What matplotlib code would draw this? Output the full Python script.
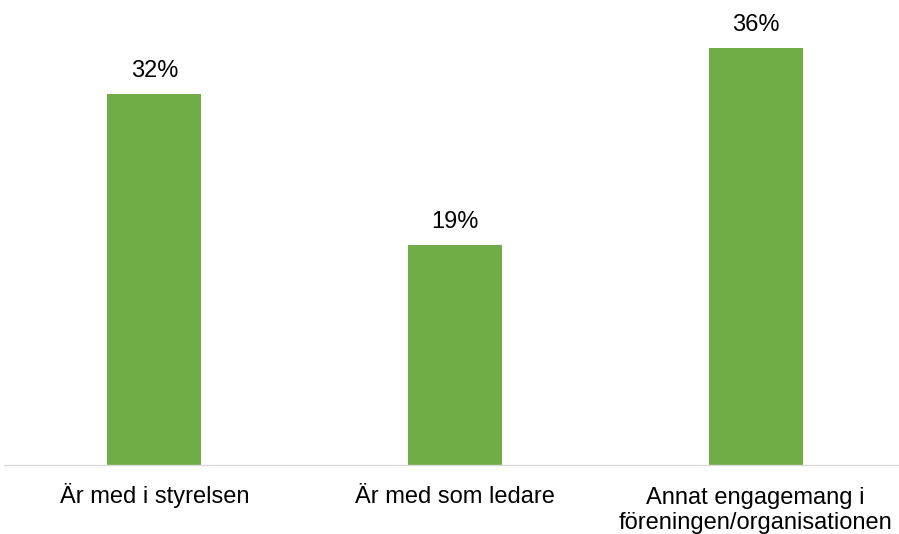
import matplotlib
matplotlib.use("Agg")
import matplotlib.pyplot as plt

categories = ["Är med i styrelsen", "Är med som ledare",
              "Annat engagemang i\nföreningen/organisationen"]
values = [32, 19, 36]

plt.rcParams['font.family'] = ['Liberation Sans', 'DejaVu Sans']

W, H = 899, 534
DPI = 100
fig = plt.figure(figsize=(W / DPI, H / DPI), dpi=DPI)

px_per_unit = 300.7
px_per_pct = 11.58
left_px, base_px = 4, 465
ymax = 40
ax = fig.add_axes([left_px / W, (H - base_px) / H,
                   (W - left_px) / W, ymax * px_per_pct / H])

x = list(range(len(categories)))
bars = ax.bar(x, values, width=0.313, color="#70AD47", zorder=2)

ax.set_xlim(-0.5, -0.5 + (W - left_px) / px_per_unit)
ax.set_ylim(0, ymax)

pt = 72 / DPI  # points per pixel
line_gap_px = 26

# value labels above each bar
for b, v in zip(bars, values):
    ax.annotate(f"{v}%", (b.get_x() + b.get_width() / 2, v),
                xytext=(0, 17 * pt), textcoords="offset points",
                ha="center", va="baseline", fontsize=17, color="#000000")

# category labels below the baseline; first line sits 38 px under the axis
for xi, cat in zip(x, categories):
    n_lines = cat.count("\n") + 1
    dy = -(38 + line_gap_px * (n_lines - 1))
    ax.annotate(cat, (xi, 0), xycoords=("data", "axes fraction"),
                xytext=(0, dy * pt), textcoords="offset points",
                ha="center", va="baseline", fontsize=17, color="#000000",
                linespacing=1.17, annotation_clip=False)

ax.set_xticks([])
ax.set_yticks([])

for s in ("top", "right", "left"):
    ax.spines[s].set_visible(False)
ax.spines["bottom"].set_color("#D9D9D9")
ax.spines["bottom"].set_linewidth(1.0)

fig.savefig("out.png", dpi=DPI)
